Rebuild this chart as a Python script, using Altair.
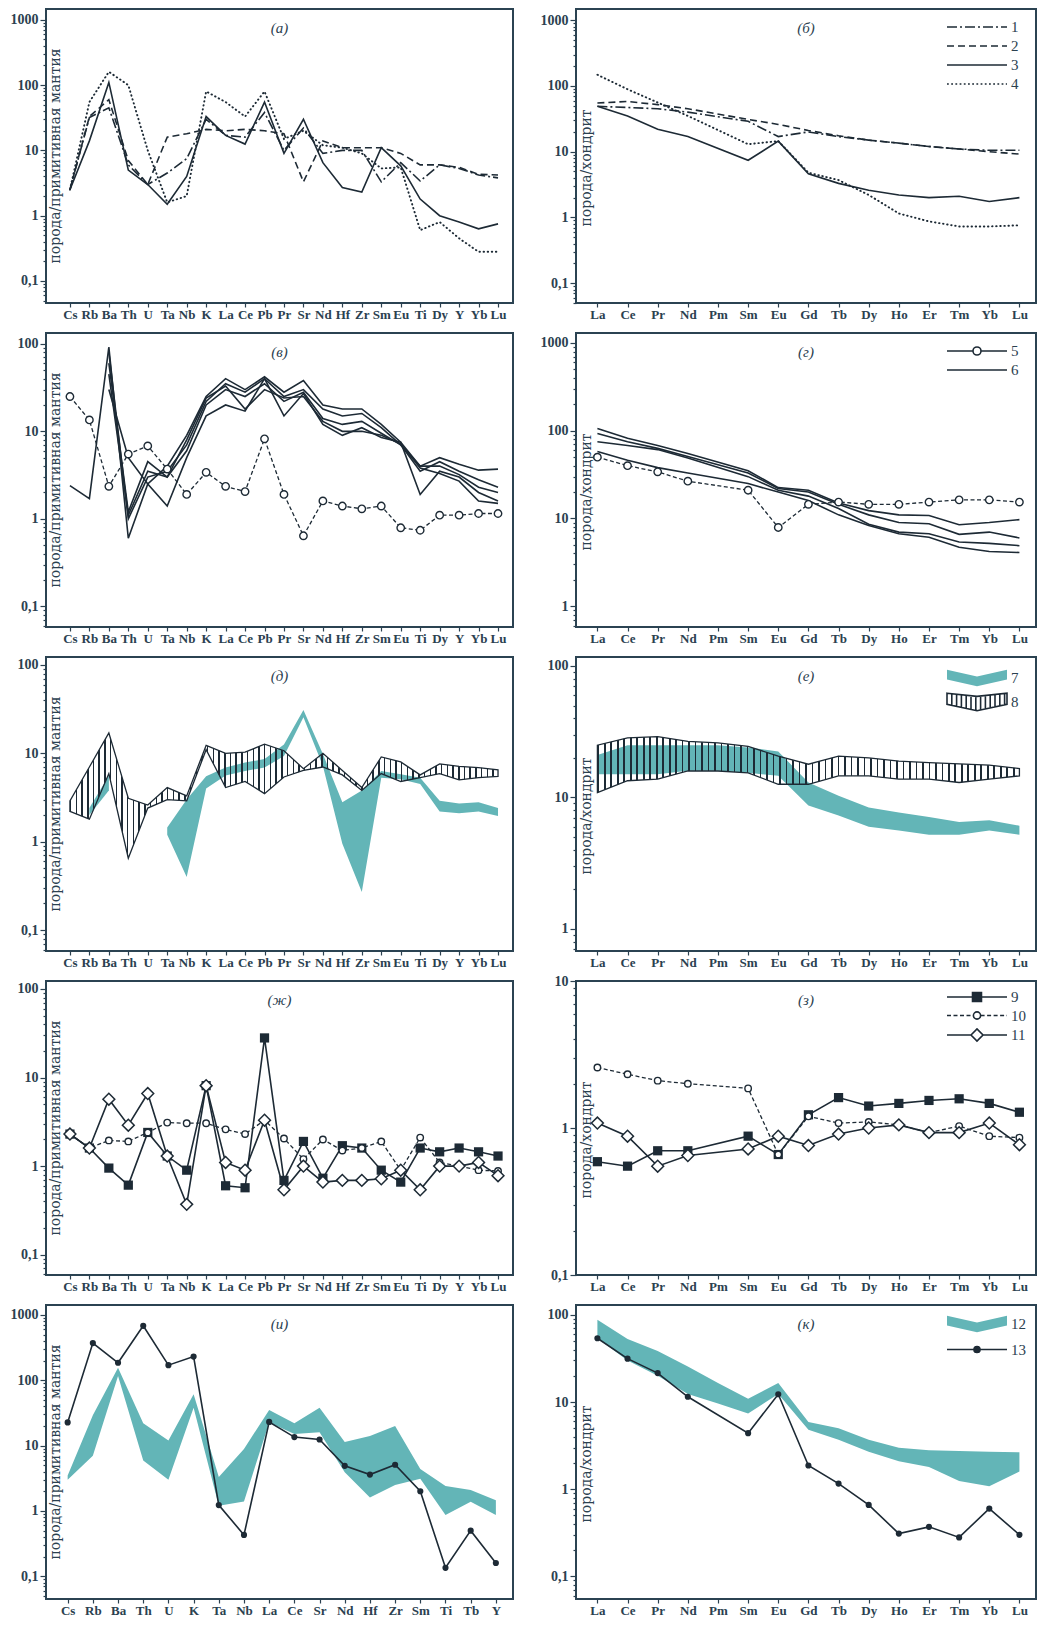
import altair as alt
import pandas as pd

# ---------------- categories ----------------
SPIDER = ["Cs", "Rb", "Ba", "Th", "U", "Ta", "Nb", "K", "La", "Ce", "Pb", "Pr", "Sr",
          "Nd", "Hf", "Zr", "Sm", "Eu", "Ti", "Dy", "Y", "Yb", "Lu"]
REE = ["La", "Ce", "Pr", "Nd", "Pm", "Sm", "Eu", "Gd", "Tb", "Dy", "Ho", "Er", "Tm", "Yb", "Lu"]
SPIDER2 = ["Cs", "Rb", "Ba", "Th", "U", "K", "Ta", "Nb", "La", "Ce", "Sr", "Nd", "Hf", "Zr",
           "Sm", "Ti", "Tb", "Y"]

LABELS = ["(а)", "(б)", "(в)", "(г)", "(д)", "(е)", "(ж)", "(з)", "(и)", "(к)"]
YT_PM = "порода/примитивная мантия"
YT_CH = "порода/хондрит"

# ---------------- (а) spider, series 1-4 ----------------
A_1 = [2.5, 32, 45, 6, 3.0, 4.5, 7.5, 30, 17, 16, 38, 10, 22, 9, 10, 10, 3.3, 6.5, 3.4, 6.0, 5.3, 4.2, 3.8]
A_2 = [2.5, 33, 60, 7, 3.0, 16, 18, 21, 20, 21, 20, 18, 3.3, 14, 11, 11, 11, 9, 6, 6, 5.5, 4.3, 4.2]
A_3 = [2.5, 14, 110, 5, 3.0, 1.5, 4, 33, 17, 12.5, 55, 9, 30, 6.5, 2.7, 2.3, 11, 5.8, 1.8, 1.0, 0.8, 0.63, 0.75]
A_4 = [2.5, 55, 160, 100, 10, 1.6, 2.0, 80, 55, 33, 80, 15, 20, 12, 11, 9, 5.3, 5.5, 0.6, 0.8, 0.45, 0.28, 0.28]

# ---------------- (б) REE, series 1-4 ----------------
B_1 = [49, 47, 45, 40, None, 29, 17, 20, 17, 15, 13.5, 12, 11, 10.5, 10.5]
B_2 = [55, 58, 52, 45, None, 31, 26, 21, 17.5, 15, 13.5, 12, 11, 10, 9.2]
B_3 = [49, 35, 22, 17, None, 7.4, 14.5, 4.6, 3.3, 2.6, 2.2, 2.0, 2.1, 1.75, 2.0]
B_4 = [148, 89, 56, 35, None, 13, 14.5, 4.8, 3.7, 2.2, 1.15, 0.87, 0.73, 0.73, 0.76]

# ---------------- (в) spider, series 5 and 6 ----------------
V_5 = [25, 13.5, 2.35, 5.5, 6.8, 3.7, 1.9, 3.4, 2.35, 2.05, 8.2, 1.9, 0.64, 1.6, 1.4, 1.3, 1.4, 0.79, 0.74, 1.1, 1.1, 1.15, 1.15]
V_6a = [2.4, 1.7, 92, 0.6, 2.5, 4, 9, 25, 40, 30, 42, 28, 38, 20, 18, 18, 12, 7.5, 4, 5, 4.2, 3.6, 3.7]
V_6b = [None, None, 80, 1.0, 3, 3.5, 7, 22, 35, 28, 40, 25, 30, 18, 15, 16, 11, 7, 3.5, 4.5, 3.5, 2.8, 2.3]
V_6c = [None, None, 60, 1.2, 4.5, 3, 6, 20, 30, 25, 35, 22, 28, 14, 12, 13, 9.5, 7, 4, 4, 3.2, 2.3, 2.0]
V_6d = [None, None, 30, 5, 2.5, 1.4, 5, 15, 20, 17, 40, 15, 27, 12, 9, 11, 8.5, 7.5, 1.9, 3.5, 3, 2, 1.6]
V_6e = [None, None, 45, 1.1, 3.5, 3, 8, 24, 33, 18, 30, 24, 25, 13, 10, 10, 9, 7.2, 3.8, 3.3, 2.7, 1.6, 1.5]

# ---------------- (г) REE, series 5 and 6 ----------------
G_5 = [50, 40, 34, 26.6, None, 21, 7.9, 14.5, 15.4, 14.5, 14.5, 15.4, 16.3, 16.3, 15.4]
G_6a = [106, 82, 68, 55, None, 35, 22.5, 21, 15, 12.3, 11, 10.8, 8.5, 9, 9.7]
G_6b = [93, 75, 63, 51, None, 33, 22, 20, 14.5, 11, 9, 8.7, 6.6, 7, 6]
G_6c = [75, 68, 61, 49, None, 30, 21, 18, 13, 8.6, 7, 6.7, 5.4, 5.2, 4.9]
G_6d = [58, 46, 38, 33, None, 25, 20, 16, 11, 8.3, 6.7, 6.1, 4.7, 4.2, 4.1]

# ---------------- (д) spider bands 7 (teal) and 8 (hatched) ----------------
D7_HI = [None, 2.4, 5.6, None, None, 1.45, 3.0, 5.5, 6.9, 7.9, 8.6, 12.6, 31, 9.8, 2.8, 3.8, 6.3, 5.8, 5.3, 2.9, 2.7, 2.8, 2.4]
D7_LO = [None, 2.0, 3.8, None, None, 1.2, 0.40, 4.0, 5.6, 6.3, 6.9, 9.3, 25.6, 7.2, 0.95, 0.27, 5.3, 5.1, 4.5, 2.2, 2.1, 2.2, 1.96]
D8_HI = [2.9, 7.0, 17, 3.1, 2.6, 4.1, 3.3, 12.3, 10, 10.3, 12.7, 10.7, 6.7, 10, 6.4, 4.1, 9.1, 8, 5.7, 7.6, 7.1, 6.9, 6.5]
D8_LO = [2.2, 1.8, 5.9, 0.65, 2.4, 3.0, 2.9, 11, 4.1, 4.8, 3.5, 5.4, 6.4, 7, 5.7, 3.8, 5.9, 4.8, 5.3, 5.9, 5.0, 5.3, 5.5]

# ---------------- (е) REE bands 7 and 8 ----------------
E7_HI = [21, 25, 25, 25, 25, 24, 22.4, 13, 10.3, 8.4, 7.7, 7.1, 6.5, 6.7, 6.1]
E7_LO = [15, 15, 15, 16, 16, 15.4, 14.6, 8.7, 7.3, 6.0, 5.6, 5.2, 5.2, 5.6, 5.2]
E8_HI = [25, 28.4, 29, 26.7, 26, 24.5, 20.6, 17.9, 20.6, 20, 18.9, 18.4, 18, 17.6, 16.6]
E8_LO = [10.9, 13.4, 13.8, 15.9, 15.9, 15.4, 12.6, 12.6, 14.6, 14.6, 13.8, 13.8, 13.0, 13.8, 14.6]

# ---------------- (ж) spider, series 9-11 ----------------
ZH_9 = [2.3, 1.6, 0.95, 0.61, 2.4, 1.3, 0.9, 8.1, 0.6, 0.57, 28, 0.69, 1.9, 0.73, 1.7, 1.6, 0.9, 0.66, 1.6, 1.45, 1.6, 1.45, 1.3]
ZH_10 = [2.3, 1.6, 1.95, 1.9, 2.4, 3.1, 3.05, 3.05, 2.6, 2.3, 3.3, 2.05, 1.2, 2.0, 1.5, 1.6, 1.9, 0.9, 2.1, 1.1, 1.0, 0.9, 0.88]
ZH_11 = [2.3, 1.6, 5.7, 2.9, 6.6, 1.3, 0.37, 8.1, 1.1, 0.9, 3.3, 0.54, 1.0, 0.66, 0.69, 0.69, 0.72, 0.9, 0.54, 1.0, 1.0, 1.1, 0.78]

# ---------------- (з) REE, series 9-11 ----------------
Z_9 = [0.59, 0.55, 0.70, 0.70, None, 0.88, 0.66, 1.23, 1.61, 1.41, 1.47, 1.54, 1.58, 1.47, 1.28]
Z_10 = [2.58, 2.32, 2.1, 2.0, None, 1.86, 0.66, 1.2, 1.08, 1.1, 1.05, 0.93, 1.03, 0.88, 0.86]
Z_11 = [1.08, 0.88, 0.55, 0.65, None, 0.72, 0.88, 0.76, 0.91, 1.0, 1.05, 0.93, 0.93, 1.08, 0.77]

# ---------------- (и) spider2, band 12 and series 13 ----------------
I_13 = [22.6, 370, 185, 680, 170, 230, 1.23, 0.43, 23, 13.5, 12.4, 4.9, 3.6, 5.1, 2.0, 0.135, 0.50, 0.16]
I12_HI = [3.5, 29, 155, 22, 12, 61, 3.3, 8.9, 35, 22, 38, 11.3, 14, 20, 4.4, 2.4, 2.1, 1.46]
I12_LO = [3.0, 7, 116, 5.9, 3.0, 38, 1.2, 1.4, 22.5, 15, 16, 3.9, 1.6, 2.5, 3.1, 0.87, 1.38, 0.87]

# ---------------- (к) REE, band 12 and series 13 ----------------
K_13 = [54, 31.5, 21.5, 11.5, None, 4.4, 12.3, 1.87, 1.16, 0.66, 0.31, 0.37, 0.28, 0.60, 0.30]
K12_HI = [88, 53, 38.5, 25.6, 16.6, 10.9, 16.5, 5.9, 5.0, 3.7, 3.0, 2.8, 2.75, 2.7, 2.65]
K12_LO = [54, 30, 20, 12.4, 9.6, 7.4, 12.4, 4.8, 3.7, 2.7, 2.1, 1.8, 1.24, 1.08, 1.6]

# ---------------- styling ----------------
INK = "#1d2a35"
TXT = "#2b4150"
FRAME = "#2b4352"
TEAL = "#63b5b7"
WL, WR, H = 467, 460, 294

XD_SP = [-1.23, 22.77]
XD_REE = [-0.71, 14.55]
XD_SP2 = [-0.86, 17.68]


def series_df(vals, s="a"):
    return pd.DataFrame([{"i": k, "v": v, "s": s} for k, v in enumerate(vals) if v is not None])


def multi_df(lists):
    return pd.concat([series_df(v, "s%d" % j) for j, v in enumerate(lists)], ignore_index=True)


def band_df(lo, hi):
    rows, seg, prev = [], 0, False
    for k, (l, h) in enumerate(zip(lo, hi)):
        if l is None or h is None:
            if prev:
                seg += 1
            prev = False
            continue
        rows.append({"i": k, "lo": l, "hi": h, "s": "g%d" % seg})
        prev = True
    return pd.DataFrame(rows)


def ytick_values(lo, hi):
    vals = []
    for d in range(-3, 5):
        for m in range(1, 10):
            v = round(m * 10 ** d, 6)
            if lo - 1e-9 <= v <= hi + 1e-9:
                vals.append(v)
    return vals


YLABEL = ("datum.value == 0.1 ? '0,1' : (indexof([1,10,100,1000], datum.value) >= 0 ? "
          "'' + datum.value : '')")
MAJOR_TEST = "indexof([0.1,1,10,100,1000], datum.value) >= 0"


def hatch(n, frac=0.26):
    stops = []
    for k in range(n):
        a = round(k / n, 5)
        b = round((k + frac) / n, 5)
        stops += [{"offset": a, "color": "rgba(0,0,0,0)"}, {"offset": a, "color": INK},
                  {"offset": b, "color": INK}, {"offset": b, "color": "rgba(0,0,0,0)"}]
    return {"gradient": "linear", "x1": 0, "x2": 1, "y1": 0, "y2": 0, "stops": stops}


SOLID = dict(color=INK, strokeWidth=1.6)
DASHED = dict(color=INK, strokeWidth=1.6, strokeDash=[7, 4])
DASHDOT = dict(color=INK, strokeWidth=1.6, strokeDash=[10, 3, 2, 3])
DOTTED = dict(color=INK, strokeWidth=1.9, strokeDash=[0.5, 3.6], strokeCap="round")
DASHED_S = dict(color=INK, strokeWidth=1.3, strokeDash=[4, 2.5])

P_CIRC = dict(shape="circle", size=55, filled=True, fill="white", stroke=INK, strokeWidth=1.4, opacity=1)
P_CIRC_S = dict(shape="circle", size=42, filled=True, fill="white", stroke=INK, strokeWidth=1.4, opacity=1)
P_SQ = dict(shape="square", size=85, filled=True, color=INK, opacity=1)
P_DIA = dict(shape="diamond", size=140, filled=True, fill="white", stroke=INK, strokeWidth=1.5, opacity=1)
P_DOT = dict(shape="circle", size=38, filled=True, color=INK, opacity=1)

BAND_TEAL = dict(color=TEAL, opacity=1)

# ---------------- legend glyph paths (unit = 8 px) ----------------
U = 8.0
X0, X1 = -6.5, 1.0
CX = (X0 + X1) / 2


def dash_path(pattern_px, x0=X0, x1=X1):
    pat = [p / U for p in pattern_px]
    out, x, k = [], x0, 0
    while x < x1 - 1e-9:
        L = pat[k % len(pat)]
        if k % 2 == 0:
            out.append("M%.3f,0H%.3f" % (x, min(x + L, x1)))
        x += L
        k += 1
    return "".join(out)


def marker_path(kind, r, dash=None):
    if dash:
        line = dash_path(dash, X0, CX - r) + dash_path(dash, CX + r, X1)
    else:
        line = "M%.3f,0H%.3fM%.3f,0H%.3f" % (X0, CX - r, CX + r, X1)
    if kind == "circle":
        m = "M%.3f,0A%.3f,%.3f 0 1,1 %.3f,0A%.3f,%.3f 0 1,1 %.3f,0Z" % (CX + r, r, r, CX - r, r, r, CX + r)
    elif kind == "square":
        m = "M%.3f,%.3fH%.3fV%.3fH%.3fZ" % (CX - r, -r, CX + r, r, CX - r)
    else:
        m = "M%.3f,0L%.3f,%.3fL%.3f,0L%.3f,%.3fZ" % (CX - r, CX, -r, CX + r, CX, r)
    return m + line


def poly(pts):
    return "M" + "L".join("%.3f,%.3f" % p for p in pts) + "Z"


def interp(pts, x):
    for (xa, ya), (xb, yb) in zip(pts[:-1], pts[1:]):
        lo, hi = min(xa, xb), max(xa, xb)
        if lo - 1e-9 <= x <= hi + 1e-9:
            return ya + (yb - ya) * (x - xa) / (xb - xa)
    return pts[-1][1]


RIB_TOP = [(X0, -1.04), (CX, -0.2), (X1, -1.04)]
RIB_BOT = [(X1, 0.2), (CX, 1.04), (X0, 0.2)]
RIBBON = poly(RIB_TOP + RIB_BOT)

HR_TOP = [(X0, -1.1), (CX, -0.7), (X1, -1.1)]
HR_BOT = [(X1, 0.3), (CX, 1.1), (X0, 0.3)]
_hl = []
_x = X0 + 0.6
while _x < X1 - 0.2:
    _hl.append("M%.3f,%.3fV%.3f" % (_x, interp(HR_TOP, _x), interp(HR_BOT[::-1], _x)))
    _x += 0.6
HATCH_RIBBON = poly(HR_TOP + HR_BOT) + "".join(_hl)

LEG_X = WR - 46


def legend_layer(keys, shapes, fills, strokes, ly, row_pad):
    leg = alt.Legend(title=None, orient="none", legendX=LEG_X, legendY=ly, direction="vertical",
                     padding=0, symbolSize=4 * U * U, symbolStrokeWidth=1.6,
                     labelOffset=3, symbolOpacity=1, symbolFillColor="white",
                     symbolStrokeColor=INK, labelFont="Liberation Serif", labelFontSize=15,
                     labelColor=TXT, rowPadding=row_pad)

    def sc(rng):
        return alt.Scale(domain=keys, range=rng)

    return alt.Chart(pd.DataFrame({"k": keys})).mark_point(opacity=0, filled=True).encode(
        x=alt.value(0), y=alt.value(0),
        shape=alt.Shape("k:N", scale=sc(shapes), legend=leg),
        fill=alt.Fill("k:N", scale=sc(fills), legend=leg),
        stroke=alt.Stroke("k:N", scale=sc(strokes), legend=leg),
    )


def make_panel(W, names, xdom, ydom, label, ytitle, right, bands=(), lines=(), points=(), legend=None):
    xs = alt.Scale(domain=xdom, nice=False, zero=False)
    ys = alt.Scale(type="log", domain=ydom, nice=False)
    xexpr = "[" + ",".join("'%s'" % n for n in names) + "][datum.value]"
    xa = alt.Axis(values=list(range(len(names))), labelExpr=xexpr, title=None, tickSize=4,
                  labelPadding=1, labelFlush=False, labelAngle=0, labelFontSize=13)
    ya = alt.Axis(values=ytick_values(*ydom), labelExpr=YLABEL, title=None,
                  tickSize={"condition": {"test": MAJOR_TEST, "value": 6}, "value": 3},
                  labelPadding=2, labelFontSize=14)
    layers = []
    for df, style in bands:
        layers.append(alt.Chart(df).mark_area(**style).encode(
            x=alt.X("i:Q", scale=xs, axis=xa), y=alt.Y("lo:Q", scale=ys, axis=ya),
            y2="hi:Q", detail="s:N"))
    for df, style in lines:
        layers.append(alt.Chart(df).mark_line(**style).encode(
            x=alt.X("i:Q", scale=xs, axis=xa), y=alt.Y("v:Q", scale=ys, axis=ya), detail="s:N"))
    for df, style in points:
        layers.append(alt.Chart(df).mark_point(**style).encode(
            x=alt.X("i:Q", scale=xs, axis=xa), y=alt.Y("v:Q", scale=ys, axis=ya)))
    layers.append(alt.Chart(pd.DataFrame({"t": [label]})).mark_text(
        font="Liberation Serif", fontSize=15, fontStyle="italic", color=TXT,
        align="center", baseline="middle").encode(
        text="t:N", x=alt.value(W / 2), y=alt.value(19)))
    layers.append(alt.Chart(pd.DataFrame({"t": [ytitle]})).mark_text(
        font="DejaVu Serif", fontSize=14, color=TXT, angle=270,
        align="center", baseline="middle").encode(
        text="t:N", x=alt.value(11 if right else 10), y=alt.value(H / 2 + (12 if right else 0))))
    if legend is not None:
        layers.append(legend)
    return alt.layer(*layers).properties(width=W, height=H)


# ---------------- panels ----------------
pa = make_panel(WL, SPIDER, XD_SP, [0.046, 1466], LABELS[0], YT_PM, False,
                lines=[(series_df(A_1), DASHDOT), (series_df(A_2), DASHED),
                       (series_df(A_3), SOLID), (series_df(A_4), DOTTED)])

leg_b = legend_layer(["1", "2", "3", "4"],
                     [dash_path([10, 3, 2, 3]), dash_path([7, 4]), dash_path([100]), dash_path([1.8, 2.4])],
                     ["transparent"] * 4, [INK] * 4, 9, 2)
pb = make_panel(WR, REE, XD_REE, [0.05, 1480], LABELS[1], YT_CH, True,
                lines=[(series_df(B_1), DASHDOT), (series_df(B_2), DASHED),
                       (series_df(B_3), SOLID), (series_df(B_4), DOTTED)], legend=leg_b)

pv = make_panel(WL, SPIDER, XD_SP, [0.058, 133], LABELS[2], YT_PM, False,
                lines=[(multi_df([V_6a, V_6b, V_6c, V_6d, V_6e]), SOLID), (series_df(V_5), DASHED_S)],
                points=[(series_df(V_5), P_CIRC)])

leg_g = legend_layer(["5", "6"], [marker_path("circle", 0.5), dash_path([100])],
                     ["white", "transparent"], [INK, INK], 9, 2)
pg = make_panel(WR, REE, XD_REE, [0.58, 1300], LABELS[3], YT_CH, True,
                lines=[(multi_df([G_6a, G_6b, G_6c, G_6d]), SOLID), (series_df(G_5), DASHED_S)],
                points=[(series_df(G_5), P_CIRC)], legend=leg_g)

pd_ = make_panel(WL, SPIDER, XD_SP, [0.058, 123], LABELS[4], YT_PM, False,
                 bands=[(band_df(D7_LO, D7_HI), BAND_TEAL),
                        (band_df(D8_LO, D8_HI), dict(fill=hatch(75), stroke=INK, strokeWidth=1.3, opacity=1))])

leg_e = legend_layer(["7", "8"], [RIBBON, HATCH_RIBBON], [TEAL, "white"], ["transparent", INK],
                     12, 0)
pe = make_panel(WR, REE, XD_REE, [0.68, 117], LABELS[5], YT_CH, True,
                bands=[(band_df(E7_LO, E7_HI), BAND_TEAL),
                       (band_df(E8_LO, E8_HI), dict(fill=hatch(65), stroke=INK, strokeWidth=1.3, opacity=1))],
                legend=leg_e)

pzh = make_panel(WL, SPIDER, XD_SP, [0.059, 123], LABELS[6], YT_PM, False,
                 lines=[(series_df(ZH_9), SOLID), (series_df(ZH_10), DASHED_S), (series_df(ZH_11), SOLID)],
                 points=[(series_df(ZH_9), P_SQ), (series_df(ZH_10), P_CIRC_S), (series_df(ZH_11), P_DIA)])

leg_z = legend_layer(["9", "10", "11"],
                     [marker_path("square", 0.56), marker_path("circle", 0.45, dash=[4, 2.5]),
                      marker_path("diamond", 0.75)],
                     [INK, "white", "white"], [INK, INK, INK], 7, 1.5)
pz = make_panel(WR, REE, XD_REE, [0.1, 10], LABELS[7], YT_CH, True,
                lines=[(series_df(Z_9), SOLID), (series_df(Z_10), DASHED_S), (series_df(Z_11), SOLID)],
                points=[(series_df(Z_9), P_SQ), (series_df(Z_10), P_CIRC_S), (series_df(Z_11), P_DIA)],
                legend=leg_z)

pi = make_panel(WL, SPIDER2, XD_SP2, [0.045, 1415], LABELS[8], YT_PM, False,
                bands=[(band_df(I12_LO, I12_HI), BAND_TEAL)],
                lines=[(series_df(I_13), SOLID)], points=[(series_df(I_13), P_DOT)])

leg_k = legend_layer(["12", "13"], [RIBBON, marker_path("circle", 0.38)], [TEAL, INK],
                     ["transparent", INK], 10, 4.5)
pk = make_panel(WR, REE, XD_REE, [0.055, 130], LABELS[9], YT_CH, True,
                bands=[(band_df(K12_LO, K12_HI), BAND_TEAL)],
                lines=[(series_df(K_13), SOLID)], points=[(series_df(K_13), P_DOT)], legend=leg_k)

chart = alt.concat(pa, pb, pv, pg, pd_, pe, pzh, pz, pi, pk, columns=2,
                   spacing={"row": 30, "column": 63}, bounds="flush")
chart = chart.resolve_scale(shape="independent", fill="independent", stroke="independent")
chart = chart.properties(padding={"left": 1, "top": 0, "right": 0, "bottom": 0})
chart = chart.configure_view(stroke=FRAME, strokeWidth=2).configure_axis(
    labelFont="Liberation Serif", labelFontWeight="bold", labelColor=TXT,
    tickColor=TXT, tickWidth=1.2, domain=False, grid=False, labelOverlap=False)

chart.save("out.html", embed_options={"renderer": "svg", "actions": False})
